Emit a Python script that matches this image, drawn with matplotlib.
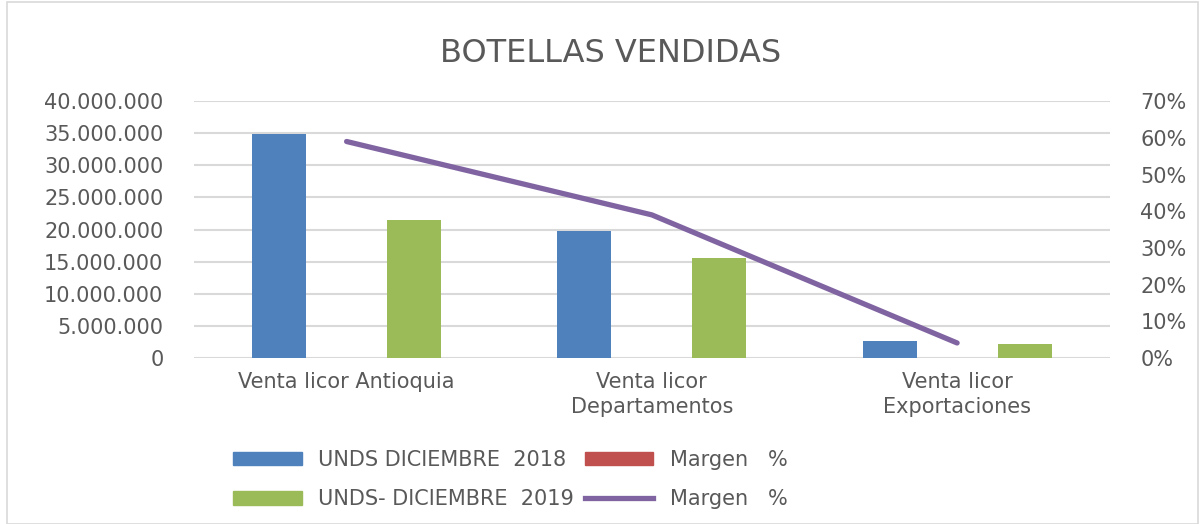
import matplotlib.pyplot as plt
import numpy as np
from matplotlib.patches import Patch, Rectangle
from matplotlib.lines import Line2D
from matplotlib.ticker import FuncFormatter

# Datos
categorias = ['Venta licor Antioquia', 'Venta licor\nDepartamentos', 'Venta licor\nExportaciones']
unds_2018 = [34900000, 19800000, 2650000]
unds_2019 = [21500000, 15600000, 2200000]
margen = [0.59, 0.39, 0.041]

AZUL = '#4F81BD'
VERDE = '#9BBB59'
ROJO = '#C0504D'
MORADO = '#8064A2'
GRIS_TXT = '#595959'
GRIS_LIN = '#D9D9D9'

plt.rcParams['font.family'] = ['DejaVu Sans']

fig = plt.figure(figsize=(12.01, 5.24), dpi=100)
fig.patches.append(Rectangle((7 / 1201, 0), 1191 / 1201, 522 / 524, transform=fig.transFigure,
                             fill=False, edgecolor=GRIS_LIN, linewidth=1.2))

ax = fig.add_axes([0.1615, 0.3168, 0.7625, 0.4902])
x = np.arange(len(categorias))
ax.bar(x - 0.221, unds_2018, width=0.177, color=AZUL, zorder=3)
ax.bar(x + 0.221, unds_2019, width=0.177, color=VERDE, zorder=3)

ax.set_xlim(-0.5, 2.5)
ax.set_ylim(0, 40000000)
ax.set_yticks(np.arange(0, 40000001, 5000000))
ax.yaxis.set_major_formatter(FuncFormatter(lambda v, p: f'{int(v):,}'.replace(',', '.')))
ax.grid(axis='y', color=GRIS_LIN, linewidth=1.5, zorder=0)
ax.set_xticks(x)
ax.set_xticklabels(categorias, fontsize=15, color=GRIS_TXT, linespacing=1.3)
ax.tick_params(axis='both', length=0, labelsize=15, labelcolor=GRIS_TXT)
ax.tick_params(axis='x', pad=10)
ax.tick_params(axis='y', pad=22)
for s in ax.spines.values():
    s.set_visible(False)

ax2 = ax.twinx()
ax2.plot(x, margen, color=MORADO, linewidth=3.8, solid_capstyle='round', zorder=4)
ax2.set_ylim(0, 0.70)
ax2.set_yticks(np.arange(0, 0.701, 0.10))
ax2.yaxis.set_major_formatter(FuncFormatter(lambda v, p: f'{v * 100:.0f}%'))
ax2.tick_params(axis='y', length=0, labelsize=15, labelcolor=GRIS_TXT, pad=22)
for s in ax2.spines.values():
    s.set_visible(False)

fig.text(0.508, 0.897, 'BOTELLAS VENDIDAS', ha='center', va='center', fontsize=23, color=GRIS_TXT)

handles = [Patch(color=AZUL), Patch(color=VERDE), Patch(color=ROJO),
           Line2D([0], [0], color=MORADO, linewidth=3.8)]
etiquetas = ['UNDS DICIEMBRE  2018', 'UNDS- DICIEMBRE  2019', 'Margen   %', 'Margen   %']
fig.legend(handles, etiquetas, ncol=2, loc='center', bbox_to_anchor=(0.425, 0.085),
           frameon=False, fontsize=15, labelcolor=GRIS_TXT, handlelength=3.3, handleheight=0.6,
           columnspacing=0.5, labelspacing=0.95, handletextpad=0.8)

fig.savefig('out.png', dpi=100)
